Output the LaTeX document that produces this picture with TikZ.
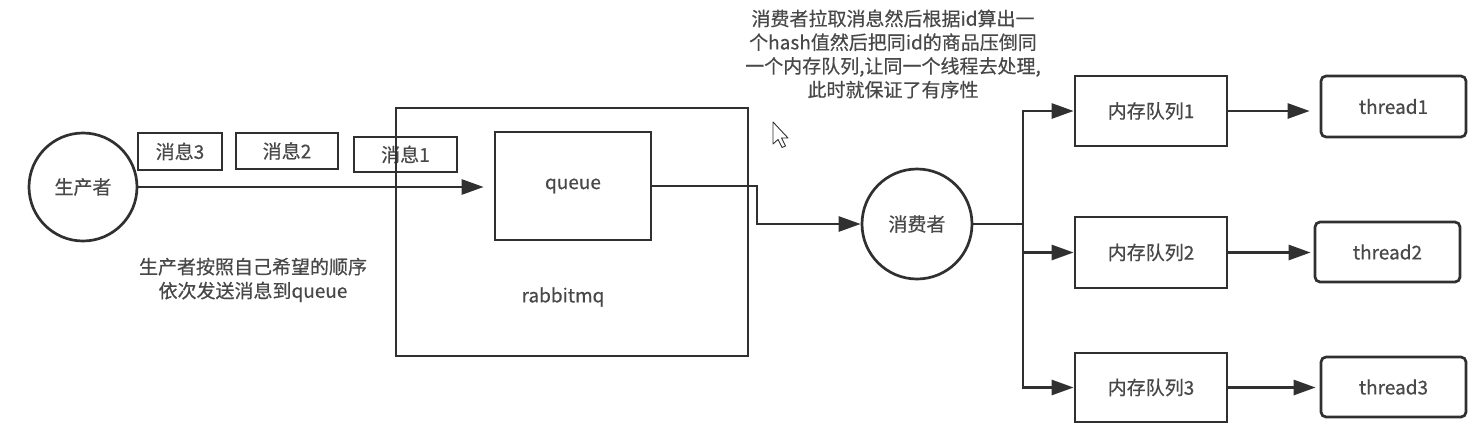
\documentclass[tikz,border=0pt]{standalone}
\usepackage{fontspec}
\setmainfont{Noto Sans CJK SC}[FakeBold=0.5]
\usetikzlibrary{arrows.meta}
\definecolor{ln}{HTML}{303030}
\definecolor{tx}{HTML}{484848}
\begin{document}
\begin{tikzpicture}[x=1pt,y=-1pt,
  every node/.style={font=\fontsize{19}{24}\selectfont,text=tx},
  box/.style={draw=ln,line width=2.7pt,inner sep=0pt,rectangle},
  rbox/.style={box,rounded corners=5pt},
  circ/.style={draw=ln,line width=2.7pt,circle,inner sep=0pt,minimum size=#1},
  conn/.style={draw=ln,line width=2.7pt},
  arr/.style={conn,-{Triangle[length=22pt,width=15pt]}}]
\useasboundingbox (0,0) rectangle (1482,434);

% producer and messages
\node[circ=108pt] (prod) at (83,187) {生产者};
\node[box,minimum width=84pt,minimum height=37pt] (m3) at (180,151.5) {消息3};
\node[box,minimum width=102pt,minimum height=36pt] (m2) at (287,151) {消息2};
\node[box,minimum width=103pt,minimum height=35pt] (m1) at (405.5,154.5) {消息1};

% rabbitmq
\node[box,minimum width=352pt,minimum height=248pt] (rmq) at (572,232) {};
\node (rmqlbl) at (563,297) {rabbitmq};
\node[box,minimum width=156pt,minimum height=108pt] (queue) at (573,186) {queue};

\draw[arr,shorten >=10pt] (prod.east) -- (prod.east -| queue.west);

\node[align=center] (pcap) at (253,280) {生产者按照自己希望的顺序\\依次发送消息到queue};

% consumer
\node[circ=110pt] (cons) at (917,224) {消费者};
\coordinate (bend) at (757,186);
\draw[arr] (queue.east) -- (bend) |- (cons.west);

\node[align=center,font=\fontsize{19}{23.7}\selectfont] (ccap) at (893,54)
  {消费者拉取消息然后根据id算出一\\个hash值然后把同id的商品压倒同\\一个内存队列,让同一个线程去处理,\\此时就保证了有序性};

% memory queues
\node[box,minimum width=152pt,minimum height=70pt] (q1) at (1151,111) {内存队列1};
\node[box,minimum width=152pt,minimum height=71pt] (q2) at (1151,252.5) {内存队列2};
\node[box,minimum width=152pt,minimum height=69pt] (q3) at (1151,387.5) {内存队列3};

\node[rbox,minimum width=145pt,minimum height=61pt] (t1) at (1393.5,106.5) {thread1};
\node[rbox,minimum width=145pt,minimum height=60pt] (t2) at (1387.5,252) {thread2};
\node[rbox,minimum width=145pt,minimum height=60pt] (t3) at (1393.5,387) {thread3};

\coordinate (split) at (1023,224);
\draw[conn] (cons.east) -- (split);
\draw[arr] (split) |- (q1.west);
\draw[arr] (split) |- (q2.west);
\draw[arr] (split) |- (q3.west);

\draw[arr,shorten >=10pt] (q1.east) -- (q1.east -| t1.west);
\draw[arr,shorten >=3pt] (q2.east) -- (q2.east -| t2.west);
\draw[arr,shorten >=4pt] (q3.east) -- (q3.east -| t3.west);

% mouse cursor
\draw[ln,line width=0.9pt,fill=white,line join=round]
  (773,122) -- (773,144) -- (778,139.5) -- (782,147.5) -- (785.5,146) -- (781.5,138) -- (788,138) -- cycle;
\end{tikzpicture}
\end{document}
